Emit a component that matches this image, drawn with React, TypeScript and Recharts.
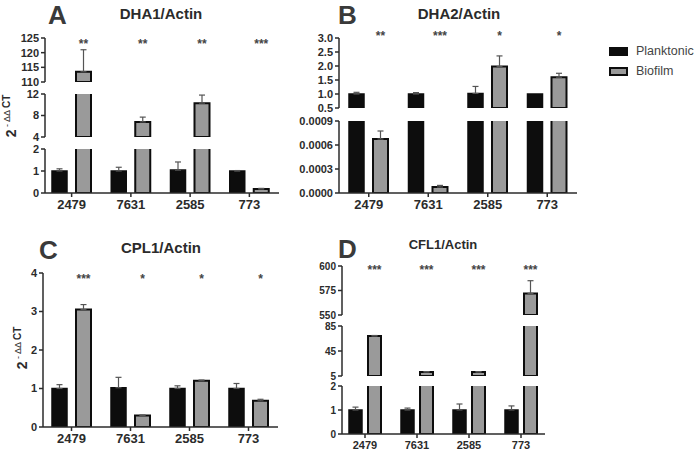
import React from 'react';
import { BarChart, Bar, XAxis, YAxis, ErrorBar, LabelList, Rectangle } from 'recharts';

// qPCR fold change (2^-ΔΔCT), planktonic vs biofilm, four strains
const strains = ['2479', '7631', '2585', '773'];

const dha1Plank = [1.0, 1.0, 1.04, 1.0];
const dha1PlankErr = [0.1, 0.17, 0.37, 0.02];
const dha1Bio = [113.5, 6.8, 10.3, 0.18];
const dha1BioErr = [7.5, 0.9, 1.5, 0.03];
const dha1Sig = ['**', '**', '**', '***'];

const dha2Plank = [1.0, 1.0, 1.02, 1.0];
const dha2PlankErr = [0.06, 0.05, 0.25, 0];
const dha2Bio = [0.000675, 0.000075, 1.98, 1.6];
const dha2BioErr = [0.0001, 0.00002, 0.38, 0.14];
const dha2Sig = ['**', '***', '*', '*'];

const cpl1Plank = [1.0, 1.02, 1.0, 1.0];
const cpl1PlankErr = [0.1, 0.27, 0.07, 0.13];
const cpl1Bio = [3.05, 0.3, 1.2, 0.68];
const cpl1BioErr = [0.13, 0.01, 0.02, 0.04];
const cpl1Sig = ['***', '*', '*', '*'];

const cfl1Plank = [1.0, 1.0, 1.0, 1.0];
const cfl1PlankErr = [0.12, 0.08, 0.25, 0.17];
const cfl1Bio = [69, 11.5, 11.5, 572];
const cfl1BioErr = [0.8, 0.5, 0.5, 13];
const cfl1Sig = ['***', '***', '***', '***'];

// broken y axes: one segment per piece, top to bottom
const dha1Ticks = [[110, 115, 120, 125], [4, 8, 12], [0, 1, 2]];
const dha2Ticks = [[0.5, 1.0, 1.5, 2.0, 2.5, 3.0], [0, 0.0003, 0.0006, 0.0009]];
const cpl1Ticks = [[0, 1, 2, 3, 4]];
const cfl1Ticks = [[550, 575, 600], [5, 45, 85], [0, 1, 2]];

const FONT = '"Liberation Sans", Arial, sans-serif';
const INK = '#2b2b2b';
const MT = 10;
const XH = 28;

type Seg = { ticks: number[]; top: number; bottom: number };

type PanelCfg = {
  letter: string;
  letterX: number;
  letterY: number;
  title: string;
  titleX: number;
  titleY: number;
  titleSize: number;
  left: number;
  width: number;
  axisX: number;
  plotRight: number;
  padL: number;
  padR: number;
  barSize: number;
  barGap: number;
  yFont: number;
  xFont: number;
  segs: Seg[];
  plank: number[];
  plankErr: number[];
  bio: number[];
  bioErr: number[];
  sig: string[];
  starY: number;
  fmt: (v: number) => string;
};

const panels: PanelCfg[] = [
  {
    letter: 'A', letterX: 48, letterY: 24, title: 'DHA1/Actin', titleX: 161, titleY: 20, titleSize: 15,
    left: 0, width: 290, axisX: 45, plotRight: 279, padL: -3, padR: 0, barSize: 15, barGap: 9,
    yFont: 11, xFont: 13,
    segs: [
      { ticks: dha1Ticks[0], top: 38, bottom: 82 },
      { ticks: dha1Ticks[1], top: 94, bottom: 137 },
      { ticks: dha1Ticks[2], top: 149, bottom: 193 },
    ],
    plank: dha1Plank, plankErr: dha1PlankErr, bio: dha1Bio, bioErr: dha1BioErr, sig: dha1Sig,
    starY: 48, fmt: (v) => String(v),
  },
  {
    letter: 'B', letterX: 338, letterY: 24, title: 'DHA2/Actin', titleX: 459, titleY: 20, titleSize: 15,
    left: 290, width: 300, axisX: 339, plotRight: 577, padL: 0, padR: 0, barSize: 15, barGap: 9,
    yFont: 11, xFont: 13,
    segs: [
      { ticks: dha2Ticks[0], top: 38, bottom: 108 },
      { ticks: dha2Ticks[1], top: 121, bottom: 193 },
    ],
    plank: dha2Plank, plankErr: dha2PlankErr, bio: dha2Bio, bioErr: dha2BioErr, sig: dha2Sig,
    starY: 40, fmt: (v) => (v < 0.01 ? v.toFixed(4) : v.toFixed(1)),
  },
  {
    letter: 'C', letterX: 39, letterY: 259, title: 'CPL1/Actin', titleX: 161, titleY: 254, titleSize: 15,
    left: 0, width: 290, axisX: 43, plotRight: 278, padL: -1, padR: 0, barSize: 15, barGap: 9,
    yFont: 11, xFont: 13,
    segs: [{ ticks: cpl1Ticks[0], top: 273, bottom: 427 }],
    plank: cpl1Plank, plankErr: cpl1PlankErr, bio: cpl1Bio, bioErr: cpl1BioErr, sig: cpl1Sig,
    starY: 283, fmt: (v) => String(v),
  },
  {
    letter: 'D', letterX: 338, letterY: 258, title: 'CFL1/Actin', titleX: 443, titleY: 250, titleSize: 13,
    left: 290, width: 270, axisX: 342, plotRight: 545, padL: -3, padR: -2, barSize: 13, barGap: 6,
    yFont: 10, xFont: 11,
    segs: [
      { ticks: cfl1Ticks[0], top: 266, bottom: 315 },
      { ticks: cfl1Ticks[1], top: 326, bottom: 376 },
      { ticks: cfl1Ticks[2], top: 386, bottom: 434 },
    ],
    plank: cfl1Plank, plankErr: cfl1PlankErr, bio: cfl1Bio, bioErr: cfl1BioErr, sig: cfl1Sig,
    starY: 274, fmt: (v) => String(v),
  },
];

const inside = (v: number, lo: number, hi: number) => v >= lo && v <= hi;

const Segment = ({ p, seg, isTop, isBottom }: { p: PanelCfg; seg: Seg; isTop: boolean; isBottom: boolean }) => {
  const lo = seg.ticks[0];
  const hi = seg.ticks[seg.ticks.length - 1];
  const mb = isBottom ? 0 : 7;
  const chartTop = seg.top - MT;
  const rows = strains.map((s, i) => ({
    strain: s,
    plank: p.plank[i],
    bio: p.bio[i],
    // whiskers only where the bar top sits inside this piece of the axis
    plankErr: inside(p.plank[i], lo, hi) && p.plankErr[i] > 0 ? [0, p.plankErr[i]] : null,
    bioErr: inside(p.bio[i], lo, hi) ? [0, p.bioErr[i]] : null,
    sig: p.sig[i],
  }));

  // a bar that ends below this piece of the axis does not reach into it
  const barShape = (key: 'plank' | 'bio') => (props: any) =>
    props.payload[key] >= lo ? <Rectangle {...props} /> : <g />;

  const renderStar = (props: any) => {
    const { x, width, value } = props;
    return (
      <text x={Number(x) + Number(width) / 2} y={p.starY - chartTop} textAnchor="middle"
        fontFamily={FONT} fontSize={12} fontWeight="bold" fill="#444">
        {value}
      </text>
    );
  };

  return (
    <div style={{ position: 'absolute', left: p.left, top: chartTop }}>
      <BarChart
        width={p.width}
        height={seg.bottom - seg.top + MT + (isBottom ? XH : mb)}
        data={rows}
        margin={{ top: MT, right: p.left + p.width - p.plotRight, bottom: mb, left: 0 }}
        barSize={p.barSize}
        barGap={p.barGap}
      >
        <XAxis
          dataKey="strain"
          hide={!isBottom}
          padding={{ left: p.padL, right: p.padR }}
          height={XH}
          stroke={INK}
          strokeWidth={1.5}
          tickSize={4}
          tickMargin={3}
          tick={{ fill: INK, fontSize: p.xFont, fontWeight: 'bold', fontFamily: FONT }}
        />
        <YAxis
          type="number"
          domain={[lo, hi]}
          ticks={seg.ticks}
          interval={0}
          allowDataOverflow
          width={p.axisX - p.left}
          tickFormatter={p.fmt}
          stroke={INK}
          strokeWidth={1.5}
          tickSize={4}
          tickMargin={2}
          tick={{ fill: INK, fontSize: p.yFont, fontWeight: 'bold', fontFamily: FONT }}
        />
        <Bar dataKey="plank" fill="#0d0d0d" stroke="#0d0d0d" strokeWidth={1.5}
          shape={barShape('plank')} isAnimationActive={false}>
          <ErrorBar dataKey="plankErr" direction="y" width={3} stroke="#555" strokeWidth={1.2} />
        </Bar>
        <Bar dataKey="bio" fill="#9a9a9a" stroke="#0d0d0d" strokeWidth={2}
          shape={barShape('bio')} isAnimationActive={false}>
          <ErrorBar dataKey="bioErr" direction="y" width={3} stroke="#555" strokeWidth={1.2} />
          {isTop && <LabelList dataKey="sig" content={renderStar} />}
        </Bar>
      </BarChart>
    </div>
  );
};

const YLabel = ({ cx, cy }: { cx: number; cy: number }) => (
  <svg width={30} height={80} style={{ position: 'absolute', left: cx - 15, top: cy - 40 }}>
    <text transform="translate(20,40) rotate(-90)" textAnchor="middle" fontFamily={FONT} fill={INK}>
      <tspan fontSize={14} fontWeight="bold">2</tspan>
      <tspan fontSize={9} dy={-6}> - ΔΔ </tspan>
      <tspan fontSize={10} fontWeight="bold">CT</tspan>
    </text>
  </svg>
);

export default function App() {
  return (
    <div style={{ position: 'absolute', left: 0, top: 0, width: 696, height: 456, background: '#fff', fontFamily: FONT }}>
      {panels.map((p) => (
        <React.Fragment key={p.letter}>
          <div style={{ position: 'absolute', left: p.letterX, top: p.letterY - 22, fontSize: 26, fontWeight: 'bold', color: '#3a3a3a', lineHeight: '26px' }}>
            {p.letter}
          </div>
          <div style={{ position: 'absolute', left: p.titleX - 60, width: 120, textAlign: 'center', top: p.titleY - p.titleSize, fontSize: p.titleSize, fontWeight: 'bold', color: INK, lineHeight: `${p.titleSize + 2}px` }}>
            {p.title}
          </div>
          {p.segs.map((seg, i) => (
            <Segment key={i} p={p} seg={seg} isTop={i === 0} isBottom={i === p.segs.length - 1} />
          ))}
        </React.Fragment>
      ))}
      <YLabel cx={11} cy={116} />
      <YLabel cx={22} cy={348} />
      {/* legend */}
      <div style={{ position: 'absolute', left: 609, top: 41 }}>
        {[
          { name: 'Planktonic', fill: '#0d0d0d' },
          { name: 'Biofilm', fill: '#9a9a9a' },
        ].map((it) => (
          <div key={it.name} style={{ display: 'flex', alignItems: 'center', height: 20 }}>
            <div style={{ width: 15, height: 5, background: it.fill, border: '2px solid #0d0d0d' }} />
            <span style={{ marginLeft: 8, fontSize: 12.5, color: '#444' }}>{it.name}</span>
          </div>
        ))}
      </div>
    </div>
  );
}
